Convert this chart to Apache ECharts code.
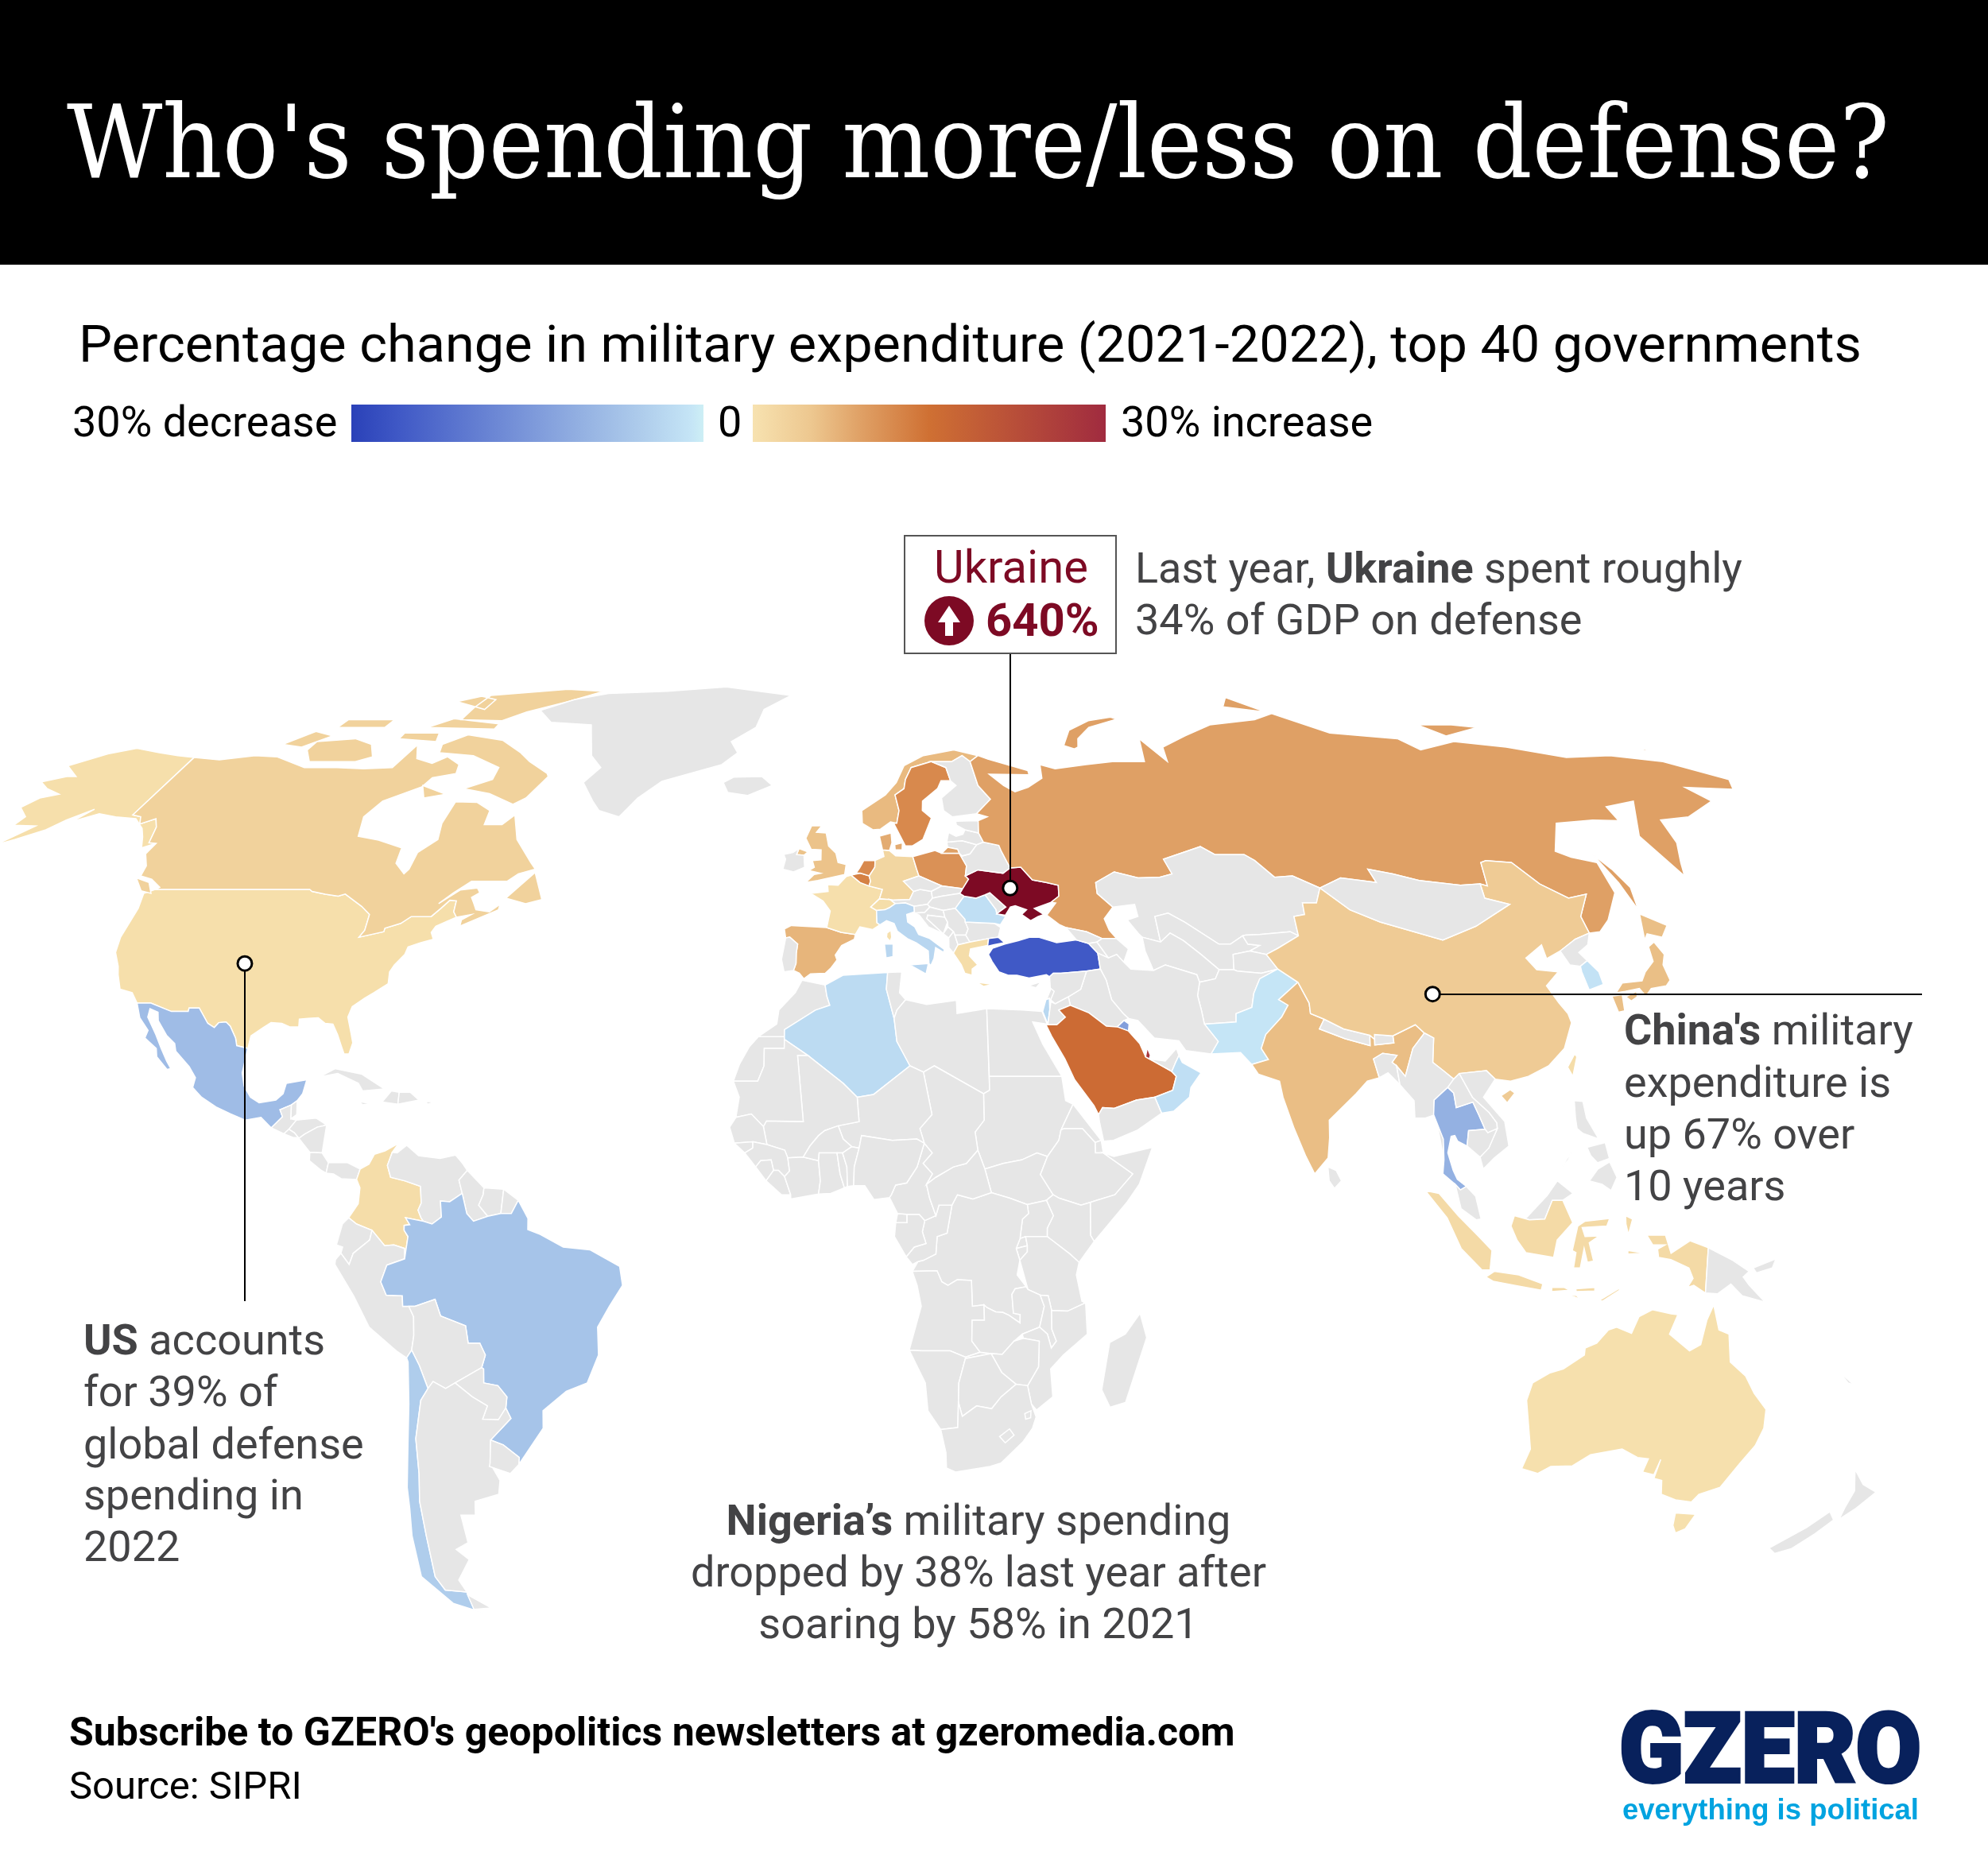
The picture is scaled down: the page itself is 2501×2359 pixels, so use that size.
<!DOCTYPE html>
<html lang="en">
<head>
<meta charset="utf-8">
<title>Who's spending more/less on defense?</title>
<script src="https://cdn.jsdelivr.net/npm/echarts@6/dist/echarts.min.js"></script>
<style>
html,body{margin:0;padding:0;background:#fff}
#chart{width:2501px;height:2359px}
</style>
</head>
<body>
<div id="chart"></div>
<script>
// percentage change 2021-2022, read from the map colours (countries not listed stay grey)
var countries = ['USA','Alaska','China','Hainan','Russia','India','Saudi Arabia','UK','Germany','France','South Korea','Japan','Ukraine','Italy','Australia','Canada','Israel','Spain','Poland','Pakistan','Netherlands','Taiwan','Brazil','Turkey','Colombia','Algeria','Kuwait','Qatar','Oman','Thailand','Mexico','Indonesia','Norway','Sweden','Belgium','Greece','Romania','Chile','Denmark','Switzerland'];
var changes   = [0.7,0.7,4.2,4.2,9.2,6,16,5.5,2.3,0.6,-2.5,5.9,640,-4.5,0.4,3,-4.2,7,11,-2,12,1,-7.7,-26,1,-3.7,-14,27,-3,-11,-9,1.5,6.5,12,13,1,-3,-6,8,0.8];

// legend colour stops [percent, colour]
var negStops = [[-30,'#2a41b8'],[-26,'#4059c6'],[-11,'#94b1e2'],[-6,'#afcdec'],[-2,'#c5e5f6'],[-1,'#cdeff5']];
var posStops = [[0,'#f7e2b0'],[5,'#edc78f'],[9,'#e0a267'],[15,'#cf7033'],[30,'#a02b3f']];

var anchors = [
  {name:'US',value:[-101.1,38.2]},
  {name:'Ukraine',value:[31.3,49.2]},
  {name:'China',value:[100,33.8]}
];

// simplified country outlines, lon,lat
var outlines = {
'USA':['-124.7,48.4 -123,49 -95.2,49 -94.6,48.7 -92,48.3 -89.5,48 -88.4,48.3 -84.5,46.5 -82.5,45.3 -82.4,43 -83,42 -79,42.8 -79,43.3 -76.5,44 -75,45 -71.5,45 -70.3,46.2 -69.2,47.4 -68,47.3 -67.8,45.7 -67,44.9 -68.5,44.3 -70.2,43.6 -70.7,42.7 -70,41.7 -72,41.2 -74,40.6 -74.2,39.5 -75.5,38 -76,37 -75.7,35.3 -77.8,34 -79.2,33.2 -81,32 -81.4,30.5 -80.5,28.2 -80,26.8 -80.4,25.2 -81.2,25.2 -81.8,26.3 -82.7,28 -83.7,29.5 -85,29.6 -86.3,30.4 -88,30.3 -89.4,30.2 -89.3,29.1 -90.8,29.1 -92.2,29.6 -94,29.7 -95.2,29 -97,27.8 -97.2,26 -99.1,26.4 -99.5,27.5 -100.7,29.2 -101.5,29.8 -102.7,29.7 -103.3,29 -104.5,29.6 -106.5,31.8 -108.2,31.8 -108.2,31.3 -111,31.3 -114.8,32.5 -117.1,32.5 -118.4,34 -120.6,34.5 -121.9,36.6 -122.5,37.8 -124,39.8 -124.4,42 -124,46.2'],
'Alaska':['-141,69.7 -141,60.3 -139,60 -137.5,58.9 -135.5,59.7 -133.5,58.4 -131.5,56 -130,55.9 -131.8,55.2 -134,56.9 -136,58.2 -139.5,59.7 -144,60 -148,60.5 -151.5,59.3 -150,61.2 -153,59.5 -154.5,58 -158,56.5 -163,54.8 -160,56 -157.5,58.6 -162,58.7 -162,60 -165.4,61.5 -164,63 -161,63.6 -165,64.5 -168,65.6 -164,66.5 -162,66.5 -166.5,68.3 -161,70.3 -156.5,71.3 -150,70.5 -145,70'],
'Canada':['-141,69.7 -135,69.3 -128,70 -123,69.8 -115,68 -108,68 -102,67.8 -96,68 -94.5,71.9 -92,69.5 -88,68.7 -85.5,69.8 -82,68.5 -81.5,67 -86,66.3 -87,64.8 -93,62.5 -94.5,60 -92.5,57 -88,56.4 -82.5,55.2 -82,52.9 -79.5,51.3 -79,52 -79,54.5 -76.7,56.5 -78,59 -78,62.4 -73.5,62.3 -70,61 -69.5,58.8 -66,58.8 -64.5,60.3 -61.5,56.5 -57,53 -55.7,52 -58.5,51.3 -60,50.2 -66.5,50.2 -69,48.5 -71,46.9 -68,48.9 -65,49.2 -64.3,48.5 -65.5,47.8 -64.8,47 -64,46 -61.5,45.7 -60,46.8 -60,46 -63.5,44.6 -66,43.6 -66,44.5 -64.5,45.3 -67,44.9 -67.8,45.7 -68,47.3 -69.2,47.4 -70.3,46.2 -71.5,45 -75,45 -76.5,44 -79,43.3 -79,42.8 -83,42 -82.4,43 -82.5,45.3 -84.5,46.5 -88.4,48.3 -89.5,48 -92,48.3 -94.6,48.7 -95.2,49 -123,49 -122.5,49.3 -125,50.5 -127.5,51 -128,52.5 -130,54.3 -130,55.9 -131.5,56 -133.5,58.4 -135.5,59.7 -137.5,58.9 -139,60 -141,60.3',
 '-128,50.7 -125,50 -123.4,48.4 -125.5,48.8','-59.3,47.7 -55.5,51.5 -52.8,47.5 -55.5,46.9',
 '-61.5,66.5 -64,63 -66,62 -72,63.7 -78,64.5 -73,66 -73,68 -80,70 -88,70.5 -89,72 -85,73.7 -76,72.7 -70,70.5 -67,69 -62,67',
 '-105,69 -115,69 -118,71 -118,72.5 -110,73 -105,72 -102,69.8','-125,72 -121,74.3 -116,73.5 -120,71.5',
 '-90,76.5 -80,76.3 -76,78 -68,80 -62,82.5 -72,83 -90,81.5 -90,79','-96,75 -80,74.7 -80,75.7 -92,76.7',
 '-117,75 -106,75 -106,76.5 -117,76.5','-87,65 -81,63.6 -85,63','-100,73 -91,72.5 -92,74 -100,74','-96,80 -87,78.5 -87,80.5 -92,81.3'],
'Greenland':['-73,78.3 -68,76 -58,75.5 -54,70 -51,68 -53.5,65.5 -50,62.5 -48,61 -43.5,60 -41,63 -37,65.7 -25,68.5 -22,70.5 -24,72.5 -19,75 -18,78.5 -12,81.5 -30,83.6 -45,82.5 -60,82 -67,80.5'],
'Iceland':['-24,65.5 -22,66.4 -16,66.5 -13.6,65 -18.5,63.4 -22.7,63.9'],
'Mexico':['-117.1,32.5 -114.8,32.5 -111,31.3 -108.2,31.3 -108.2,31.8 -106.5,31.8 -104.5,29.6 -103.3,29 -102.7,29.7 -101.5,29.8 -100.7,29.2 -99.5,27.5 -99.1,26.4 -97.2,26 -97.7,22.5 -97.2,20.6 -96,19 -94.5,18.2 -91.8,18.6 -90.7,19.5 -90.3,21 -87,21.5 -87.5,19.5 -88.3,18.5 -89.2,17.9 -91,17.2 -90.5,16.2 -92.2,14.6 -94,16.1 -96.5,15.7 -99,16.6 -101.5,17.6 -104,19 -105.6,20.4 -105.3,21.8 -106.5,23.4 -109,25.6 -109.4,26.7 -111,27.9 -112.8,30 -113.2,31.2 -114.7,31.7 -114.7,30.5 -112.8,28 -111.5,26 -110.3,24.2 -109.5,23.1 -110.1,23 -112,24.8 -112.3,26 -114.5,27.5 -114.2,28.6 -116,30.4'],
'Guatemala':['-92.2,14.6 -90.5,16.2 -91,17.2 -89.2,17.9 -89.1,15.9 -88.2,15.7 -89.3,14.4 -90.1,13.75'],
'Belize':['-89.2,17.9 -88.3,18.5 -88.2,16.5 -89.1,15.9'],
'Honduras':['-89.3,14.4 -88.2,15.7 -85,16 -83.2,15 -84.7,14.7 -86.7,13.7 -87.6,13.1 -88.4,13.9'],
'El Salvador':['-90.1,13.75 -89.3,14.4 -88.4,13.9 -87.7,13.2 -88.5,13.2'],
'Nicaragua':['-87.6,13.1 -86.7,13.7 -84.7,14.7 -83.2,15 -83.7,11 -85.7,11.1'],
'Costa Rica':['-85.7,11.1 -83.7,11 -82.6,9.6 -82.9,8.1 -83.7,8.5 -85.7,9.9'],
'Panama':['-82.6,9.6 -79.5,9.6 -77.4,8.7 -77.9,7.2 -80.4,7.3 -81.7,8 -82.9,8.1'],
'Cuba':['-85,21.9 -82.5,23.1 -78,22.3 -74.2,20.2 -77.7,19.9 -78.5,21 -82,22.4'],
'Haiti':['-74.4,18.3 -73,19.9 -71.7,19.7 -71.8,18'],
'Dominican Rep.':['-71.7,19.7 -69.9,19.7 -68.4,18.6 -71.8,18'],
'Jamaica':['-78.3,18.4 -76.3,18.1 -77.5,17.9'],
'Puerto Rico':['-67.2,18.4 -65.7,18.3 -67,18'],
'Colombia':['-71.3,12.4 -72.3,11.1 -73,9.2 -72.4,7.5 -70.1,7 -67.5,6.2 -67.3,3.8 -67.8,2.8 -67.3,1.7 -66.9,1.2 -69.8,1.7 -69.1,0.7 -70,0.6 -70,-0.1 -69.4,-1 -70,-4.2 -70,-2.7 -71.7,-2.2 -73.2,-2.3 -75.2,-0.1 -77.7,0.8 -79,1.7 -77.5,3.7 -77.3,6 -77.9,7.2 -77.4,8.7 -76,9.4 -75.2,10.8 -73.5,11.3'],
'Venezuela':['-72.3,11.1 -71.5,11 -70,12.1 -68,10.6 -64.5,10.2 -62,10.7 -60.8,9.5 -60,8.5 -61.3,7.1 -60.7,5.2 -62.7,4 -64.2,4.1 -64,1.8 -65.5,0.8 -66.9,1.2 -67.3,1.7 -67.8,2.8 -67.3,3.8 -67.5,6.2 -70.1,7 -72.4,7.5 -73,9.2'],
'Guyana':['-60,8.5 -57.2,6 -57.3,5 -58,3.5 -56.5,1.9 -58.8,1.2 -59.9,2.3 -60.7,5.2 -61.3,7.1'],
'Suriname':['-57.2,6 -54,5.8 -54.4,2.3 -56.5,1.9 -58,3.5 -57.3,5'],
'French Guiana':['-54,5.8 -51.6,4.2 -52.7,2.3 -54.4,2.3'],
'Ecuador':['-79,1.7 -77.7,0.8 -75.2,-0.1 -75.6,-1.5 -78.3,-3.4 -79,-5 -80.3,-3.4 -80,-2.5 -81,-2.2 -80,0.8'],
'Peru':['-80.3,-3.4 -79,-5 -78.3,-3.4 -75.6,-1.5 -75.2,-0.1 -73.2,-2.3 -71.7,-2.2 -70,-2.7 -70,-4.2 -72.9,-5.1 -74,-7.5 -73.2,-9.4 -70.6,-9.5 -70.6,-11 -69.6,-11 -68.9,-12.5 -69,-15.2 -69.5,-17.3 -70.4,-18.4 -72,-17.4 -76.2,-14 -78.5,-9.5 -81.3,-5 -81.2,-4.3'],
'Brazil':['-51.6,4.2 -50,1.6 -50,0 -48,-0.7 -44.3,-2.5 -40,-2.9 -35.2,-5.3 -34.8,-8 -37,-11 -39,-14 -39,-18 -41,-22 -44.5,-23.2 -48.5,-26 -48.7,-28.5 -52,-32.2 -53.4,-33.7 -53.2,-32.7 -55.6,-30.9 -57.6,-30.2 -53.9,-27.1 -54.6,-25.6 -54.3,-24 -55.7,-22.4 -58,-22 -57.9,-20 -58.2,-19.8 -57.5,-18 -58.3,-16.3 -60.2,-16.3 -60.5,-13.8 -64.5,-12.4 -65.3,-10 -68.6,-11 -70.6,-11 -70.6,-9.5 -73.2,-9.4 -74,-7.5 -72.9,-5.1 -70,-4.2 -69.4,-1 -70,-0.1 -70,0.6 -69.1,0.7 -69.8,1.7 -66.9,1.2 -65.5,0.8 -64,1.8 -64.2,4.1 -62.7,4 -60.7,5.2 -59.9,2.3 -58.8,1.2 -56.5,1.9 -54.4,2.3 -52.7,2.3'],
'Bolivia':['-69.6,-11 -68.6,-11 -65.3,-10 -64.5,-12.4 -60.5,-13.8 -60.2,-16.3 -58.3,-16.3 -57.5,-18 -58.2,-19.8 -62.7,-22 -64.3,-22.8 -66.3,-21.8 -67.2,-22.8 -68.4,-19.5 -69.5,-17.3 -69,-15.2 -68.9,-12.5'],
'Chile':['-69.5,-17.3 -68.4,-19.5 -67.2,-22.8 -68.5,-24.5 -70,-30 -70.4,-35 -71.5,-39 -72,-44 -73,-50 -72.3,-52 -68.5,-52.3 -68.6,-54.9 -67,-55.5 -72,-54 -75.5,-50 -74.5,-44 -73.5,-40 -73,-37 -71.5,-31 -70.5,-25 -70.2,-19 -70.4,-18.4'],
'Paraguay':['-62.7,-22 -58.2,-19.8 -57.9,-20 -58,-22 -55.7,-22.4 -54.3,-24 -54.6,-25.6 -56,-27.3 -58.6,-27.2 -57.6,-25.3 -60,-24'],
'Argentina':['-67.2,-22.8 -66.3,-21.8 -64.3,-22.8 -62.7,-22 -60,-24 -57.6,-25.3 -58.6,-27.2 -56,-27.3 -54.6,-25.6 -53.9,-27.1 -57.6,-30.2 -58.2,-33.5 -57,-36 -57.7,-38 -62,-39 -62.5,-41 -65,-41 -65,-45 -67.5,-46 -65.8,-47.5 -69,-50.5 -68.5,-52.3 -72.3,-52 -73,-50 -72,-44 -71.5,-39 -70.4,-35 -70,-30 -68.5,-24.5','-68.6,-52.7 -65.2,-54.7 -68.6,-54.9'],
'Uruguay':['-57.6,-30.2 -55.6,-30.9 -53.2,-32.7 -53.4,-33.7 -55,-35 -58.4,-34 -58.2,-33.5'],
'Spain':['-9.2,43.2 -8,43.7 -3.5,43.5 -1.8,43.4 0.7,42.7 3.2,42.4 3,41.7 0.8,40.8 -0.3,39.4 0,38.7 -1,37.6 -2,36.8 -4.5,36.7 -5.6,36 -6.4,36.8 -7.4,37.2 -7,38.2 -7,39.7 -6.8,41 -8.2,42 -8.9,41.9'],
'Portugal':['-8.9,41.9 -8.2,42 -6.8,41 -7,39.7 -7,38.2 -7.4,37.2 -9,37 -9.5,38.8'],
'France':['-1.8,43.4 -1.2,45.8 -2.5,47.3 -4.7,48.4 -1.6,48.7 -1.7,49.7 0.2,49.6 1.7,50.9 2.6,51.1 4.2,50 5.8,49.5 8.2,49 7.6,47.6 6,46.4 7,45.9 7,44.1 7.5,43.8 6.2,43.1 4,43.5 3.2,42.4 0.7,42.7','8.7,42.6 9.4,43 9.5,42 9.2,41.4 8.6,42'],
'Belgium':['2.6,51.1 4.3,51.4 5.9,51 6.1,50.2 5.8,49.5 4.2,50'],
'Netherlands':['3.5,51.4 4.3,51.4 5.9,51 7,52.3 7.1,53.3 5,53.3 4.2,52.2'],
'Germany':['7.1,53.3 8.8,53.9 8.6,54.9 9.9,54.8 11,54 14.2,53.9 14.7,52 15,51 12.1,50.2 13.8,48.7 13,47.5 10,47.4 7.6,47.6 8.2,49 5.8,49.5 6.1,50.2 5.9,51 7,52.3'],
'Switzerland':['6,46.4 7.6,47.6 9.5,47.5 10.4,46.9 9.3,46.3 8.5,46 7,45.9'],
'Austria':['9.5,47.5 10,47.4 13,47.5 13.8,48.7 15,49 17,48.7 17.1,47.7 16.1,46.8 13.7,46.5 12.2,47 10.4,46.9'],
'Italy':['7,45.9 8.5,46 9.3,46.3 10.4,46.9 12.2,47 13.7,46.5 13.7,45.7 12.3,45.3 12.4,44.2 13.6,43.5 14.2,42.4 16.1,41.8 18.5,40.2 18.3,39.8 17,40.5 16.6,38.9 16,37.9 15.7,38.2 15.7,40 13.7,41.2 12.2,41.8 10.5,42.9 10,44 8.7,44.4 7.5,43.8 7,44.1','12.4,38 15.6,38.2 15.1,36.7','8.2,41 9.7,41 9.6,39.2 8.4,39'],
'UK':['-5.7,50 -3.5,50.3 1.4,51.2 1.7,52.7 0.2,53 -0.2,54.4 -1.6,55.5 -2.1,57.5 -4,57.6 -3,58.6 -5,58.6 -6,56.7 -4.9,55 -3,54.9 -3,53.4 -4.6,53.3 -4.2,52.3 -5.2,51.8 -3,51.4 -4.2,51.2','-7.2,55.1 -5.5,54.6 -6.2,54.1 -7.6,54.2'],
'Ireland':['-10,52 -9.6,53.5 -10,54.2 -8.3,54.5 -7.2,55.1 -7.6,54.2 -6.2,54.1 -6,52.3 -8,51.6'],
'Denmark':['8.6,54.9 9.9,54.8 10.5,56 10.5,57.5 8.2,57','11,55.7 12.5,56 12.3,54.9 11,54.9'],
'Norway':['5,61 5,59 7,58 8.5,58.1 10.6,59.2 11.8,59 12.5,61 12,63.5 14,64.5 14.5,66 16,68 20.5,69 21,69 25,69 27.5,70 29,69 31,70 26,71 19,70 14.5,68.3 12.5,65.5 10,63.5'],
'Sweden':['11.2,59 13,55.5 14.3,55.5 16.5,56.5 18.8,59.8 17.2,61 17.5,62.5 21,64.5 22,65.8 24,65.8 23.5,68 20.5,69 16,68 14.5,66 14,64.5 12,63.5 12.5,61 11.8,59'],
'Finland':['20.5,69 23.5,68 24,65.8 25,65 21.5,63 21.5,61 23,60 28,60.5 31.5,62.8 29.6,65 29,69 27.5,70 25,69 21,69'],
'Poland':['14.2,53.9 18.5,54.8 19.7,54.4 23,54.4 24,52.5 23.5,51 24,50.5 22.7,49.1 19,49.5 15,51 14.7,52'],
'Czechia':['12.1,50.2 15,51 19,49.5 17,48.7 15,49 13.8,48.7'],
'Slovakia':['17,48.7 19,49.5 22.7,49.1 22.1,48.4 18.8,48 17.1,47.7'],
'Hungary':['17.1,47.7 18.8,48 22.1,48.4 22.8,48 21,46.2 18.8,45.9 16.5,46.4 16.1,46.8'],
'Slovenia':['13.7,46.5 16.1,46.8 16.5,46.4 15.5,45.6 13.7,45.5'],
'Croatia':['13.7,45.5 15.5,45.6 16.5,46.4 18.8,45.9 19,44.9 16,45.2 15.8,44.7 18.5,42.5 16,43.5 14.5,45.2'],
'Bosnia':['16,45.2 19,44.9 19.4,44.2 18.5,42.5 15.8,44.7'],
'Serbia':['18.8,45.9 21,46.2 22.5,44.6 22.9,43.2 22.4,42.3 20.5,42.3 20.3,42.8 19.4,43.5 19.4,44.2 19,44.9'],
'Montenegro':['18.5,42.5 19.4,43.5 20.3,42.8 19.4,41.9'],
'Albania':['19.4,41.9 20.3,42.8 20.5,42.3 20.9,40.9 20,39.7 19.3,40.5'],
'N. Macedonia':['20.5,42.3 22.4,42.3 23,41.3 20.9,40.9'],
'Bulgaria':['22.5,44.2 27.6,44 28.6,43.4 28,42 26.3,41.8 23,41.3 22.4,42.3 22.9,43.2'],
'Romania':['22.8,48 24.9,47.7 26.6,48.2 28.2,46 28.2,45.4 29.7,45 28.6,43.8 27.6,44 22.5,44.2 22.5,44.6 21,46.2'],
'Moldova':['26.6,48.2 27.5,48.5 30,46.4 28.2,45.4 28.2,46'],
'Greece':['20,39.7 20.9,40.9 23,41.3 26.3,41.8 26,40.8 23,40.3 22.7,39.3 24,38 23,37.4 22.9,36.5 21.7,36.8 21.2,38','23.6,35.5 26.3,35.2 24.7,34.9'],
'Ukraine':['22.7,49.1 24,50.5 23.5,51 26,51.9 30.5,51.4 32,52.2 34,52.3 35.6,50.4 38,50 40.1,49.6 39.8,48 38.2,47.1 35,46.2 36.5,45.3 35.4,45 34,44.4 32.6,45.3 33.6,46 31.7,46.6 30.8,46.4 29.7,45.2 28.2,45.4 30,46.4 27.5,48.5 26.6,48.2 24.9,47.7 22.8,48 22.1,48.4'],
'Belarus':['23,54.4 24,52.5 23.5,51 26,51.9 30.5,51.4 32,52.2 31,54.7 30.8,55.6 28,56.1 26.6,55.7 25,54.3 23.5,54'],
'Lithuania':['21,55.3 22.8,55 23,54.4 23.5,54 25,54.3 26.6,55.7 24,56.3 21,56.1'],
'Latvia':['21,56.1 24,56.3 26.6,55.7 28,56.1 27.5,57.5 25,58 24.4,57.3 23,57 21.7,57.6'],
'Estonia':['23.5,58.7 25,58 27.5,57.5 28,59.4 23.5,59.3'],
'Russia':['28,59.4 27.5,57.5 28,56.1 30.8,55.6 31,54.7 32,52.2 34,52.3 35.6,50.4 38,50 40.1,49.6 39.8,48 38.2,47.1 39,47 37,45.2 39,43.8 40,43.4 43.5,42.8 46,41.8 48.5,41.8 47.5,43 47,44.7 49,46.4 46.8,48.4 47,50 51,51.6 55,50.7 59,50.8 61.5,51.3 61,53.5 69,55.4 71,54.2 76.5,54.2 77.9,53.3 80,50.8 83.4,51 87.3,49.2 92,50.7 98,50 98,52 102,51.3 106,50.3 113,49.6 116.7,49.8 117.8,49.5 119.8,53 121,53.3 125.5,53 127.5,49.8 131,47.7 134.7,48.3 131,45 131,42.6 133,42.8 135.5,44.5 140,48.5 141.4,53 137.5,53.8 135.5,54.7 142,59 150,59.5 155,59.4 156,61.6 163,62.5 155,57 155.2,51 157,53 160.5,56 163.5,59.5 170,60 179,62.5 177.5,64.7 187,64.4 189,66 180,69 170,70 160,69.7 150,71.5 140,72.5 130,71 128,73 114,74 106,77.7 100,76.5 88,75.5 80,73.5 73,71.5 72,69 69,73 67,69 60,69 54,68.5 47,67.8 44,68.5 43.5,66.2 40,64.7 37,64 35,65 32.5,66.9 41,66.8 41,67.5 33,69.4 31,70 29,69 29.6,65 31.5,62.8 28,60.5 30,60',
 '19.7,54.4 23,54.4 22.8,55 21,55.3','142,54.3 143,52 143.5,49.3 142,46 142,50','51,71.8 53,71.2 54,71.5 55,73 59,75 67,76.6 66,77 60,76.3 54,74.5','96,79 105,78 100,81','137,75.5 145,75.5 150,75 140,73.5','179,71.3 181.5,71 179.5,70.9'],
'Kazakhstan':['47,50 46.8,48.4 49,46.4 53,46.8 53,45 51,44.5 52.5,42.5 53,42 56,41.3 56,45 58.5,45.5 61,44.2 66,41 68,41 70.5,42.2 71,42.3 73.5,42.4 79,42.8 80.2,42.2 80.5,45 82.5,45.3 83,47 85.5,47 87.3,49.2 83.4,51 80,50.8 77.9,53.3 76.5,54.2 71,54.2 69,55.4 61,53.5 61.5,51.3 59,50.8 55,50.7 51,51.6'],
'Uzbekistan':['56,45 58.5,45.5 61,44.2 66,41 68,41 70.5,42.2 71,41 73,40.8 71,40 68,39.5 67.5,37.3 65,37.3 62.5,39.5 60,41.5 58,42.6 56,41.3'],
'Turkmenistan':['53,42 56,41.3 58,42.6 60,41.5 62.5,39.5 65,37.3 64,36 61.2,35.5 61,36.6 56,38 53.8,37.2 53,40'],
'Kyrgyzstan':['70.5,42.2 71,42.3 73.5,42.4 79,42.8 80.2,42.2 76,40.4 73.7,39.5 71,40 73,40.8 71,41'],
'Tajikistan':['68,39.5 71,40 73.7,39.5 75,37.4 72,36.8 68,37.1 67.5,37.3'],
'Afghanistan':['61.2,35.5 64,36 65,37.3 67.5,37.3 68,37.1 72,36.8 75,37.4 71.5,36 70,33.9 69.3,31.9 66.5,31 66.3,29.8 61,29.5 60.8,31.5 60.5,33.6'],
'Pakistan':['61,29.5 66.3,29.8 66.5,31 69.3,31.9 70,33.9 71.5,36 75,37.4 77.8,35.5 74,33 75.4,32.2 74,30.5 71,28 70,26 71,24.4 68.2,23.7 66.5,25.4 61.6,25.2 63,27'],
'India':['77.8,35.5 79,32.5 78.9,31 81,30.2 80,28.8 84,27.4 88,26.4 88.2,27.9 88.9,27.3 88.8,26.5 92,26.8 92,27.8 96,29.4 97.3,28.2 95,26 93.3,22 92,23.5 91.3,24 92.2,25 89.9,25.3 88.3,24.5 89,21.8 87,21.3 85,19.5 80.3,15.7 80.2,13.2 79.8,10.3 77.5,8 76.2,10.5 74.5,14.5 73,19 72.6,21.3 69.2,22.3 68.2,23.7 71,24.4 70,26 71,28 74,30.5 75.4,32.2 74,33'],
'Nepal':['80,28.8 81,30.2 84,28.8 88.2,27.9 88,26.4 84,27.4'],
'Bhutan':['88.9,27.3 89,28 92,27.8 92,26.8 88.8,26.5'],
'Bangladesh':['88.3,24.5 89.9,25.3 92.2,25 91.3,24 92,23.5 92.3,20.8 90.5,22.5 89,21.8'],
'Sri Lanka':['79.7,9 81,8.5 81.8,7 80.6,5.9 79.8,7'],
'China':['73.7,39.5 76,40.4 80.2,42.2 80.5,45 82.5,45.3 83,47 85.5,47 87.3,49.2 90.9,46 95.3,44.2 105,41.6 111.8,43.6 119.8,46.8 116,47.7 116.7,49.8 117.8,49.5 119.8,53 121,53.3 125.5,53 127.5,49.8 131,47.7 134.7,48.3 131,45 131,42.6 128,41.7 124.4,40 121.5,38.9 121.7,40.9 118,39 119,37.3 122.5,37 119.5,35 120.8,32.5 121.8,31 122,29.7 120,26 117,23.5 113.5,22 110.5,21.3 108,21.6 106.7,22.8 102.2,22.4 101.2,21.6 99.5,22.9 98,24 98.7,27.5 97.3,28.2 96,29.4 92,27.8 89,28 88.9,27.3 88.2,27.9 84,28.8 81,30.2 78.9,31 79,32.5 77.8,35.5 75,37.4'],
'Hainan':['108.7,19.2 110.3,20.1 111,19.6 109.6,18.2'],
'Taiwan':['120.1,23.3 121.5,25.2 121.8,24.8 120.8,22'],
'Mongolia':['87.3,49.2 92,50.7 98,50 98,52 102,51.3 106,50.3 113,49.6 116.7,49.8 116,47.7 119.8,46.8 111.8,43.6 105,41.6 95.3,44.2 90.9,46'],
'North Korea':['124.4,40 128,41.7 131,42.6 129.7,40.9 127.5,39.8 128.3,38.6 126.7,37.8 125,38'],
'South Korea':['126.7,37.8 128.3,38.6 129.4,37 129.2,35.2 126.5,34.4 126.5,37'],
'Japan':['130.9,34 132.5,35.4 136,35.7 137.3,37 139.5,38.5 140,40.6 141.4,41.3 142,39.5 140.9,38 140.8,35.8 139.7,35 137,34.6 135.7,33.5 135,34.6 132.5,34.2','130,33.5 131.8,33.7 131.4,31.4 130.3,31.2','132.3,33.4 134.4,34.2 134.2,33.4 133,32.8','140,41.6 141.7,45.4 145.3,43.7 143.3,42 141,42.5'],
'Myanmar':['92.3,20.8 92,23.5 93.3,22 95,26 97.3,28.2 98.7,27.5 98,24 99.5,22.9 101.2,21.6 100.1,20.4 97.7,18.6 97.4,16.5 98.7,13 98.6,10 97.7,16.5 96,16 94.3,16 94.4,18.5'],
'Thailand':['97.7,18.6 100.1,20.4 101,19.6 101.2,17.5 104,18.3 104.8,16.4 105.6,14.4 102.9,14.2 102.5,12 101,12.7 100.6,13.5 100,13.4 99.3,11 100,8.5 100.6,7.2 102,6.2 101,5.7 100.2,6.5 98.3,8 98.6,10 98.7,13 97.4,16.5'],
'Laos':['101.2,21.6 102.2,22.4 103,20.9 104,19 106.5,16.8 107.6,15.3 107.6,14.5 106,13.9 105.6,14.4 104.8,16.4 104,18.3 101.2,17.5 101,19.6 100.1,20.4'],
'Vietnam':['102.2,22.4 106.7,22.8 108,21.6 105.8,19 108.9,15.5 109.3,12 106.8,10.3 104.9,8.7 104.5,10.4 106,11.7 107.6,14.5 107.6,15.3 106.5,16.8 104,19 103,20.9'],
'Cambodia':['102.9,14.2 105.6,14.4 106,13.9 107.6,14.5 106,11.7 104.5,10.4 102.5,12'],
'Malaysia':['100.2,6.5 101,5.7 102,6.2 103.4,4.8 104.2,1.5 103.4,1.4 101,3','109.6,2 112,1.4 114.5,1.5 115.8,4.2 117.5,4.2 119.2,5.2 116.8,7 115,4.9 111.3,1.5'],
'Indonesia':['109.6,2 112,1.4 114.5,1.5 115.8,4.2 117.5,4.2 119,1 116.5,-1.5 116,-4 111.5,-3.3 110,-1.5 109,0.5','95.3,5.6 97.5,5.2 100.5,2 103.8,-1 106,-3 105.8,-5.8 104.5,-5.8 101,-2.7 98.7,1.7','105.2,-6.8 106.5,-6 110.5,-6.5 114.5,-7.8 114.3,-8.7 110,-8 106.4,-7.4','116,-8.3 118,-8.3 119,-8.7 116,-8.9','119.9,-8.5 123,-8.3 123,-8.8 120,-8.9','123.6,-10.3 127,-8.4 127,-8.7 124.5,-10.2','119.2,-9.5 120.8,-10 120,-9.4','119.3,-5.5 119.6,-3.3 119,-3 119.8,0.5 121,1.2 125,1.6 124.5,0.5 120.5,0.3 121,-1 123.3,-0.9 121.7,-1.9 122.5,-4.5 121.5,-4.7 120.9,-2.7 120.4,-5.5','127.6,2 128.7,1.5 128,-0.7 127.6,0.8','128,-3 130.8,-3.4 128,-3.5','131,-0.8 134,-0.8 135,-3.4 138,-1.6 141,-2.6 141,-9.1 139,-8 138,-8.3 138.8,-7 138,-5.5 135,-4.3 133,-4 132.8,-2.8 134,-2.2 132,-2.2'],
'PNG':['141,-2.6 145,-4.4 147.8,-6 146.9,-6.8 148,-8 150.8,-10.4 147,-9.5 145,-7.8 143,-9.2 141,-9.1','148.4,-5.5 152,-4.2 151.5,-5.5 149,-6.2'],
'Philippines':['120.5,16 120.6,18.5 122,18.4 122.3,16 124,13 121.5,13.8 120.6,14.5','122,7 123.5,8.7 125.5,9.7 126.5,7.5 125.4,5.6 124,6.5','122,11.8 125,12.5 125.5,10.2 123.5,9.6 122.5,10.6','117.2,8.4 119.5,11.3 118.8,10'],
'New Zealand':['171.2,-34.4 174,-36.6 177,-37.7 175.3,-40 173.7,-41.6 173.3,-39.8 173.2,-37.5','171.2,-40.5 172.8,-41.7 171.2,-43.7 169,-45.9 166.8,-46.6 165,-45.8 169,-42.8'],
'New Caledonia':['164,-20.2 167,-22.3 166,-22'],
'Australia':['114.2,-22 116.8,-20.6 119,-20 122.2,-18 122.2,-17 124,-16.3 125.7,-14.4 127,-14 129.5,-14.9 130.5,-12.5 132.6,-11.5 135.7,-12.1 136.8,-12.2 135.7,-15 139.3,-17.4 141,-16.5 141.6,-13 142.5,-10.8 143.7,-14.4 145.4,-15 146.2,-19 149,-21 150.8,-23.5 153.2,-25.8 153.6,-28.5 153,-31 151.5,-33.5 150,-37 147,-38 146.4,-39.1 143.5,-38.8 140.6,-38 139.5,-36 138,-35.7 138,-33 137.7,-35.2 135.6,-34.8 135.9,-32.9 134,-32.7 131,-31.5 126,-32.3 123.5,-33.9 119.9,-34 118,-35 115.1,-34.3 115.7,-31.5 114.2,-27 113.5,-24.5','144.7,-40.7 148.3,-40.9 148,-43 146.7,-43.6 145.5,-42.5'],
'Madagascar':['49.3,-12 50.5,-15.5 47.5,-24.8 45,-25.5 43.5,-23 44.5,-16.2 47,-15'],
'Turkey':['26,40.7 26.3,41.8 28,42 29,41.2 27,40.9','26,39.5 26.8,40.4 29,41 31.4,41.5 33.5,42 35,42 38,41.2 41.5,41.6 43.5,41.1 44.8,39.7 44.8,37.4 42.4,37.1 38,36.8 36.7,36.8 36,36.3 35.5,36.6 32.5,36.1 30.5,36.5 29,36.5 27.5,37 26.5,38.5'],
'Georgia':['40,43.4 43.5,42.8 46,41.8 45,41.3 43.5,41.1 41.5,41.6'],
'Armenia':['43.5,41.1 45,41.3 46.5,39 44.8,39.7'],
'Azerbaijan':['45,41.3 46,41.8 48.5,41.8 50.2,40.3 49,38.4 48,39.5 46.5,39'],
'Iran':['44.8,39.7 46.5,39 48,39.5 49,38.4 50,37.4 53.8,37.2 56,38 61,36.6 61.2,35.5 60.5,33.6 60.8,31.5 61,29.5 63,27 61.6,25.2 57.5,25.7 56.5,27.1 52.5,27.5 50,30 48.5,30.3 47.7,31 46,33 45.5,35.8 44.8,37.4'],
'Iraq':['42.4,37.1 44.8,37.4 45.5,35.8 46,33 47.7,31 48.5,30.3 47.7,30 46.5,29.1 44.7,29.2 42,31.1 39,32.2 38.8,33.4 41,34.5'],
'Syria':['36,36.3 36.7,36.8 38,36.8 42.4,37.1 41,34.5 38.8,33.4 36.5,32.4 35.8,33 35.9,35'],
'Lebanon':['35.2,33.2 35.8,33 36.5,34.2 36,34.6'],
'Israel':['34.3,31.3 35,29.5 35.5,31.5 35.6,33.2 35,33'],
'Jordan':['35,29.4 36.5,29.4 38,30.5 37,31.5 39,32.2 38.8,33.4 36.5,32.4 35.8,32.7 35.5,31.5'],
'Kuwait':['46.5,29.1 47.7,30 48.5,29.5 48.3,28.5'],
'Saudi Arabia':['34.7,29.4 36.5,29.4 38,30.5 37,31.5 39,32.2 42,31.1 44.7,29.2 46.5,29.1 48.3,28.5 50,26.7 50.8,24.8 51.4,24.5 55,22.7 55.7,22 55,20 52,19 49,18.6 45.3,17.4 43.4,17.5 42.7,16.5 42,17.8 39,21.5 37.5,24.5 35.5,27.8'],
'Qatar':['50.8,24.8 51.2,26.1 51.6,25 51.4,24.5'],
'UAE':['51.4,24.5 54,24.2 56,26 56.3,25 55.7,24 55,22.7'],
'Oman':['55,22.7 55.7,24 56.3,25 56.8,24 59.8,22.5 58,20.4 57.7,19 55,17 53,16.7 52,19 55,20 55.7,22'],
'Yemen':['43.4,17.5 45.3,17.4 49,18.6 52,19 53,16.7 49,14.3 45,12.8 43.4,12.7 42.8,15.5 42.7,16.5'],
'Cyprus':['32.3,35 34.5,35.6 33.5,34.7'],
'W. Sahara':['-13,27.7 -8.7,27.7 -8.7,26 -12,26 -12,23.5 -13,21.3 -17,21.3 -16,23.8 -14.5,26.2'],
'Morocco':['-5.9,35.8 -2,35.1 -1.7,33.5 -1.2,32.2 -3.6,31.5 -8.7,28.7 -8.7,27.7 -13,27.7 -10,29.5 -9.7,31.5 -7,34'],
'Algeria':['-2,35.1 1,36.5 8.6,36.9 8.3,34.5 9.5,30.3 9.9,27 12,23.5 6,19.4 3.3,19 1,21 -4.8,25 -8.7,27.3 -8.7,28.7 -3.6,31.5 -1.2,32.2 -1.7,33.5'],
'Tunisia':['8.6,36.9 11,37 10.5,34 11.5,33 10,31.5 9.5,30.3 8.3,34.5'],
'Libya':['11.5,33 15,32.3 20,32.9 20,31 25,31.7 25,20 24,19.5 16,23.5 14.2,22.6 12,23.5 9.9,27 9.5,30.3 10,31.5'],
'Egypt':['25,31.7 31,31.5 34.2,31.3 34.9,29.5 32.5,29.8 34,26.6 36.9,22 25,22'],
'Sudan':['25,22 36.9,22 37.4,18.5 38.6,18 36.5,14.3 36.1,12.8 34.2,10.5 32.5,11 30,10 27,9.5 24,8.7 22.9,11.4 22.5,14 24,15.7 24,19.5 25,20'],
'South Sudan':['24,8.7 27,9.5 30,10 32.5,11 34.2,10.5 33,7.9 35,5 33.9,4.2 30.8,3.6 28,4.5 25,5.3'],
'Eritrea':['36.5,14.3 38.6,18 43,12.8 42,12.5 40,14.5 37,14.5'],
'Djibouti':['42,11 42,12.5 43,12.8 43.3,11'],
'Ethiopia':['36.5,14.3 37,14.5 40,14.5 42,12.5 42,11 43.3,11 48,8 45,5 42,4.2 41,3.9 39.5,3.5 36,4.5 35,5 33,7.9 34.2,10.5 36.1,12.8'],
'Somalia':['43.3,11 45,10.5 51.3,11.8 49,6.5 47,4 41.6,-1.7 41,-0.8 41,3.9 42,4.2 45,5 48,8'],
'Kenya':['33.9,4.2 35,5 36,4.5 39.5,3.5 41,3.9 41,-0.8 41.6,-1.7 39.2,-4.7 37.7,-3.5 34,-1 34,0.2 35,2'],
'Uganda':['30.8,3.6 33.9,4.2 35,2 34,0.2 34,-1 30.5,-1 29.6,-1.3 30,1.5 31,2.3'],
'Rwanda':['29,-2.7 29.6,-1.3 30.5,-1 30.8,-2.3'],
'Burundi':['29,-2.7 30.8,-2.3 30.8,-3.2 29.6,-4.4'],
'Tanzania':['30.5,-1 34,-1 37.7,-3.5 39.2,-4.7 38.8,-6.5 39.8,-10.3 40.4,-10.5 37.5,-11.7 34.9,-11.6 34.3,-9.5 33,-9.4 31,-8.6 29.6,-4.4 30.8,-3.2 30.8,-2.3'],
'DR Congo':['12.2,-6 13.1,-4.6 14,-4.4 16,-3.5 16.2,-1 17.8,-0.5 18.6,3.5 19.5,5 22,4.4 25,5.3 28,4.5 30.8,3.6 31,2.3 30,1.5 29.6,-1.3 29,-2.7 29.6,-4.4 29.2,-6.5 30.7,-8.2 28.9,-8.5 28.4,-9.3 28.7,-12 29.8,-12.2 29.8,-13.4 28,-12.3 27,-11.9 25.8,-11.8 24.4,-11.2 23.9,-10.8 22,-11 21.8,-7.3 19.5,-7.2 18,-8 17,-7.5 16.2,-5.9'],
'Congo':['11.2,-3.9 12.2,-5 13.1,-4.6 14,-4.4 16,-3.5 16.2,-1 17.8,-0.5 18.6,3.5 16.5,3.5 16,2 14.2,1.3 13.8,-0.3 14.4,-2 12.5,-2.5'],
'Gabon':['9.3,-1 9.5,1 11.3,1 11.3,2.2 13.3,2.2 14.2,1.3 13.8,-0.3 14.4,-2 12.5,-2.5 11.2,-3.9'],
'Eq. Guinea':['9.5,1 9.8,2.3 11.3,2.2 11.3,1'],
'Cameroon':['8.5,4.6 9.8,2.3 11.3,2.2 13.3,2.2 14.2,1.3 16,2 15,4.5 14.5,6.5 15.5,8 14,9.5 15.5,11 14.2,12.4 13,9 11.3,6.7 9.5,6.4 8.8,5'],
'CAR':['15,4.5 16,2 16.5,3.5 18.6,3.5 19.5,5 22,4.4 25,5.3 24,8.7 22.9,11.4 21,9.5 18.9,9 16,7.5 14.5,6.5'],
'Chad':['14.2,12.4 15.5,11 14,9.5 15.5,8 14.5,6.5 16,7.5 18.9,9 21,9.5 22.9,11.4 22.5,14 24,15.7 24,19.5 16,23.5 14.2,22.6 15.5,16.5 13.5,14.5'],
'Niger':['3.3,19 6,19.4 12,23.5 14.2,22.6 15.5,16.5 13.5,14.5 14.2,12.4 13,13 9,12.8 4,13.5 3.6,11.7 2.4,11.9 1,13 0.2,14.9 3.6,15.5'],
'Mali':['-4.8,25 1,21 3.3,19 3.6,15.5 0.2,14.9 -2,14.2 -3,13.5 -4.4,12 -5.5,10.4 -8,10.3 -8.5,11.4 -11.4,12.2 -12,14.8 -11.5,15.6 -5.5,15.5 -6.5,25'],
'Mauritania':['-17,21.3 -13,21.3 -12,23.5 -12,26 -8.7,26 -8.7,27.3 -4.8,25 -6.5,25 -5.5,15.5 -11.5,15.6 -12,14.8 -14,16.6 -16.5,16.1 -16,19'],
'Senegal':['-16.5,16.1 -14,16.6 -12,14.8 -11.4,12.2 -13.7,12.6 -16.7,12.4 -17.5,14.7'],
'Guinea-Bissau':['-16.7,12.4 -13.7,12.6 -13.7,11.7 -15,11'],
'Guinea':['-13.7,12.6 -11.4,12.2 -8.5,11.4 -8,10.3 -7.7,8.4 -8.5,7.6 -9.5,8.5 -10.3,8.5 -10.7,10 -12.4,9.9 -13.2,9 -15,11 -13.7,11.7'],
'Sierra Leone':['-13.2,9 -12.4,9.9 -10.7,10 -10.3,8.5 -11.5,7'],
'Liberia':['-11.5,7 -10.3,8.5 -9.5,8.5 -8.5,7.6 -7.5,5 -9,5'],
'Ivory Coast':['-8.5,7.6 -7.7,8.4 -8,10.3 -5.5,10.4 -3,9.9 -2.7,7 -3,5.1 -7.5,4.4 -7.5,5'],
'Burkina Faso':['-5.5,10.4 -4.4,12 -3,13.5 -2,14.2 0.2,14.9 1,13 2.4,11.9 0.9,11 0,11 -2.9,11 -3,9.9'],
'Ghana':['-3,5.1 -2.7,7 -3,9.9 -2.9,11 0,11 0.5,8 1.2,6 -1,5.2'],
'Togo':['0,11 0.9,11 1.6,9 1.7,6.2 1.2,6 0.5,8'],
'Benin':['0.9,11 2.4,11.9 3.6,11.7 2.8,9 2.7,6.3 1.7,6.2 1.6,9'],
'Nigeria':['2.7,6.3 2.8,9 3.6,11.7 4,13.5 9,12.8 13,13 14.2,12.4 13,9 11.3,6.7 9.5,6.4 8.8,5 8.5,4.6 6,4.3 4.5,6.3'],
'Angola':['12.2,-6 16.2,-5.9 17,-7.5 18,-8 19.5,-7.2 21.8,-7.3 22,-11 23.9,-10.8 24,-13 22,-13 22,-16 23.4,-17.6 21,-18.3 18.5,-17.4 13.9,-17.4 11.8,-17.3 13.7,-11 13,-8'],
'Namibia':['11.8,-17.3 13.9,-17.4 18.5,-17.4 21,-18.3 23.4,-17.6 25.2,-17.8 21,-18.5 20,-22 20,-28.4 17.2,-28.7 15,-26 14.5,-22'],
'Zambia':['22,-13 24,-13 23.9,-10.8 24.4,-11.2 25.8,-11.8 27,-11.9 28,-12.3 29.8,-13.4 29.8,-12.2 28.7,-12 28.4,-9.3 28.9,-8.5 30.7,-8.2 31,-8.6 33,-9.4 33.7,-11 33,-14 30.2,-15 28.9,-16 27,-17.9 25.2,-17.8 23.4,-17.6 22,-16'],
'Malawi':['33,-9.4 34.3,-9.5 34.9,-11.6 35,-14.3 35.8,-16 35,-17 34.3,-15 33,-14 33.7,-11'],
'Mozambique':['40.4,-10.5 40.8,-15 37,-18 35,-20 35.5,-24 32.9,-25.9 32,-25 31.3,-22.4 33,-19.7 33,-16 30.4,-15.6 30.2,-15 33,-14 34.3,-15 35,-17 35.8,-16 35,-14.3 34.9,-11.6 37.5,-11.7'],
'Zimbabwe':['25.2,-17.8 27,-17.9 28.9,-16 30.4,-15.6 33,-16 33,-19.7 31.3,-22.4 29.4,-22.2 27,-20.5'],
'Botswana':['20,-22 21,-18.5 25.2,-17.8 27,-20.5 29.4,-22.2 27,-24 25.5,-25.7 23,-25.3 20.7,-26.8 20,-24.8'],
'South Africa':['17.2,-28.7 20,-28.4 20,-24.8 20.7,-26.8 23,-25.3 25.5,-25.7 27,-24 29.4,-22.2 31.3,-22.4 32,-25 32.9,-26.9 32.4,-28.5 30.9,-30.5 27.5,-33.5 25.7,-34 20,-34.8 18.4,-34.2 18.2,-32'],
'Lesotho':['27,-29.7 28.6,-28.6 29.4,-29.5 28,-30.6'],
'Eswatini':['31,-26.4 32,-26 32,-27 31.2,-27.2']
};

var geoFeatures = Object.keys(outlines).map(function(name){
  return {type:'Feature',properties:{name:name},geometry:{type:'MultiPolygon',coordinates:outlines[name].map(function(s){
    var ring = s.split(' ').map(function(p){ return p.split(',').map(Number); });
    ring.push(ring[0]);
    return [ring];
  })}};
});
echarts.registerMap('world',{type:'FeatureCollection',features:geoFeatures});

// Robinson-like projection, table fitted to the picture
var robLat = [0,5,10,15,20,25,30,35,40,45,50,55,60,65,70,75,80,85,90];
var robX = [1,.9986,.9954,.992,.987,.982,.973,.96,.94,.918,.89,.855,.81,.77,.735,.69,.64,.58,.53];
var robY = [0,.062,.124,.186,.248,.31,.372,.434,.4958,.5571,.6176,.6769,.7346,.7903,.8435,.8936,.9394,.9761,1];
function robTable(t,lat){
  var a = Math.min(Math.abs(lat),89.999), i = Math.floor(a/5), f = a/5-i;
  return t[i]+(t[i+1]-t[i])*f;
}
var project = function(p){
  var sign = p[1]<0?-1:1;
  return [1053+7.78*p[0]*robTable(robX,p[1]), 1547-707*sign*robTable(robY,p[1])];
};
var unproject = function(q){
  var yt = Math.abs(1547-q[1])/707, i = 0;
  while(i<17 && robY[i+1]<yt) i++;
  var lat = (robLat[i]+5*(yt-robY[i])/(robY[i+1]-robY[i]))*(q[1]>1547?-1:1);
  return [(q[0]-1053)/(7.78*robTable(robX,lat)),lat];
};
var minX=1e9,maxX=-1e9,minY=1e9,maxY=-1e9;
geoFeatures.forEach(function(f){
  f.geometry.coordinates.forEach(function(poly){
    poly[0].forEach(function(c){
      var q = project(c);
      if(q[0]<minX)minX=q[0]; if(q[0]>maxX)maxX=q[0];
      if(q[1]<minY)minY=q[1]; if(q[1]>maxY)maxY=q[1];
    });
  });
});

var DARKRED = '#7d0a24';
function hex(c){ return [1,3,5].map(function(i){ return parseInt(c.substr(i,2),16); }); }
function mix(stops,v){
  var i = 0;
  while(i<stops.length-2 && stops[i+1][0]<v) i++;
  var a = stops[i], b = stops[i+1], t = Math.max(0,Math.min(1,(v-a[0])/(b[0]-a[0])));
  var ca = hex(a[1]), cb = hex(b[1]);
  return 'rgb('+[0,1,2].map(function(k){ return Math.round(ca[k]+(cb[k]-ca[k])*t); }).join(',')+')';
}
// one colour per percent, the extra top step takes Ukraine, far off the scale
var ramp = [];
for(var v=-30;v<=30;v++) ramp.push(v<0?mix(negStops,v):mix(posStops,v));
ramp.push(DARKRED);
function barStops(stops){
  var lo = stops[0][0], hi = stops[stops.length-1][0];
  return stops.map(function(s){ return {offset:(s[0]-lo)/(hi-lo),color:s[1]}; });
}

var ROBOTO = 'Roboto', INK = '#434345';
var measure = document.createElement('canvas').getContext('2d');
function label(x,base,text,size,o){
  o = o||{};
  var fill = o.fill||INK, family = o.family||ROBOTO, weight = o.weight||400;
  var st = {text:text,x:0,y:0,fill:fill,fontFamily:family,fontSize:size,fontWeight:weight,
    align:o.align||'left',textAlign:o.align||'left',verticalAlign:'middle',textVerticalAlign:'middle',
    rich:{b:{fill:fill,fontFamily:family,fontSize:size,fontWeight:700}}};
  if(o.stroke){ st.stroke = fill; st.lineWidth = o.stroke; }
  var el = {type:'text',x:x,y:base-size*0.26,style:st,silent:true};
  if(o.fitWidth){
    measure.font = weight+' '+size+'px "'+family+'"';
    el.scaleX = o.fitWidth/measure.measureText(text).width;
  }
  return el;
}
function rules(x1,y1,x2,y2){
  return {type:'line',shape:{x1:x1,y1:y1,x2:x2,y2:y2},style:{stroke:'#000',lineWidth:2},silent:true};
}

var graphics = [
  {type:'rect',shape:{x:0,y:0,width:2501,height:333},style:{fill:'#000'},silent:true},
  label(84,223,"Who's spending more/less on defense?",128,{fill:'#fff',family:'DejaVu Serif',fitWidth:2293}),
  label(99,456,'Percentage change in military expenditure (2021-2022), top 40 governments',64,{fill:'#000',fitWidth:2243}),
  label(91,550,'30% decrease',54,{fill:'#000'}),
  {type:'rect',shape:{x:442,y:509,width:443,height:47},style:{fill:new echarts.graphic.LinearGradient(0,0,1,0,barStops(negStops))},silent:true},
  label(903,550,'0',54,{fill:'#000'}),
  {type:'rect',shape:{x:947,y:509,width:444,height:47},style:{fill:new echarts.graphic.LinearGradient(0,0,1,0,barStops(posStops))},silent:true},
  label(1410,550,'30% increase',54,{fill:'#000'}),

  rules(1271,823,1271,1107),
  rules(308,1222,308,1637),
  rules(1812,1251,2418,1251),

  {type:'rect',shape:{x:1138,y:674,width:266,height:148},style:{fill:'#fff',stroke:'#555',lineWidth:2},silent:true},
  label(1272,734,'Ukraine',58,{fill:DARKRED,align:'center'}),
  {type:'circle',shape:{cx:1194,cy:781,r:31},style:{fill:DARKRED},silent:true},
  {type:'polygon',shape:{points:[[1194,762],[1208,783],[1199,783],[1199,800],[1189,800],[1189,783],[1180,783]]},style:{fill:'#fff'},silent:true},
  label(1240,801,'640%',58,{fill:DARKRED,weight:700}),
  label(1428,734,'Last year, {b|Ukraine} spent roughly',54),
  label(1428,799,'34% of GDP on defense',54),

  label(105,1705,'{b|US} accounts',54),
  label(105,1770,'for 39% of',54),
  label(105,1836,'global defense',54),
  label(105,1900,'spending in',54),
  label(105,1965,'2022',54),

  label(2043,1315,"{b|China's} military",54),
  label(2043,1381,'expenditure is',54),
  label(2043,1446,'up 67% over',54),
  label(2043,1511,'10 years',54),

  label(1231,1932,'{b|Nigeria\u2019s} military spending',54,{align:'center'}),
  label(1231,1997,'dropped by 38% last year after',54,{align:'center'}),
  label(1231,2062,'soaring by 58% in 2021',54,{align:'center'}),

  label(87,2196,"Subscribe to GZERO's geopolitics newsletters at gzeromedia.com",50,{fill:'#000',weight:700}),
  label(87,2263,'Source: SIPRI',49,{fill:'#000'}),

  label(2037,2243,'GZERO',122,{fill:'#08215c',family:'Roboto',weight:900,fitWidth:380,stroke:4}),
  label(2041,2288,'everything is political',37,{fill:'#00a3e0',family:'Liberation Sans',weight:700,fitWidth:373})
];

var chart = echarts.init(document.getElementById('chart'),null,{renderer:'canvas'});
chart.setOption({
  animation:false,
  backgroundColor:'#fff',
  geo:{
    map:'world',
    roam:false,
    silent:true,
    projection:{project:project,unproject:unproject},
    left:minX,top:minY,width:maxX-minX,height:maxY-minY,
    label:{show:false},
    itemStyle:{areaColor:'#e6e6e6',borderColor:'#fff',borderWidth:1.5},
    emphasis:{disabled:true},
    select:{disabled:true}
  },
  visualMap:{
    type:'continuous',show:false,seriesIndex:0,min:-30,max:31,
    inRange:{color:ramp}
  },
  series:[
    {type:'map',geoIndex:0,silent:true,
     data:countries.map(function(c,i){ return {name:c,value:changes[i]}; })},
    {type:'scatter',coordinateSystem:'geo',silent:true,symbol:'circle',symbolSize:18,z:20,
     itemStyle:{color:'#fff',borderColor:'#000',borderWidth:3,opacity:1},
     data:anchors}
  ],
  graphic:{elements:graphics.map(function(g){ g.z = g.z||100; return g; })}
});
</script>
</body>
</html>
